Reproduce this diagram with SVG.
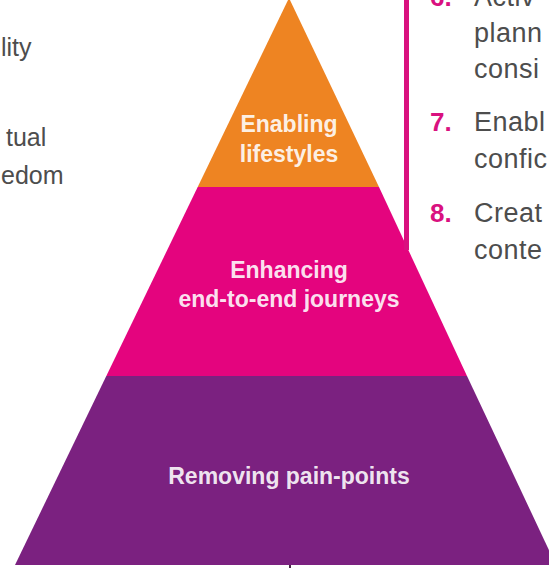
<svg xmlns="http://www.w3.org/2000/svg" width="549" height="568" viewBox="0 0 549 568">
  <style>
    .lbl { font-family: "Liberation Sans", Arial, sans-serif; font-weight: bold; font-size: 23px; fill: #ffffff; fill-opacity: 0.9; text-anchor: middle; }
    .side { font-family: "Liberation Sans", Arial, sans-serif; font-size: 25px; fill: #4d4d4d; }
    .rside { font-family: "Liberation Sans", Arial, sans-serif; font-size: 27px; fill: #4d4d4d; letter-spacing: 0.5px; }
    .num { font-family: "Liberation Sans", Arial, sans-serif; font-weight: bold; font-size: 26px; fill: #d9117f; }
  </style>
  <rect x="0" y="0" width="549" height="568" fill="#ffffff"/>

  <g id="side-left">
    <text class="side" x="1" y="56">lity</text>
    <text class="side" x="6" y="146">tual</text>
    <text class="side" x="1" y="184">edom</text>
  </g>

  <g id="tier-top">
    <polygon points="289,-2 379,187 197.7,187" fill="#ee8422"/>
    <text class="lbl" x="289" y="132">Enabling</text>
    <text class="lbl" x="289" y="162">lifestyles</text>
  </g>

  <g id="tier-middle">
    <polygon points="197.7,187 379,187 467,376 106.3,376" fill="#e4047e"/>
    <text class="lbl" x="289" y="278">Enhancing</text>
    <text class="lbl" x="289" y="307">end-to-end journeys</text>
  </g>

  <g id="tier-bottom">
    <polygon points="106.3,376 467,376 556,565 15,565" fill="#7b2180"/>
    <text class="lbl" x="289" y="484">Removing pain-points</text>
  </g>

  <g id="connectors">
    <line x1="406.5" y1="-2" x2="406.5" y2="250" stroke="#d9117f" stroke-width="5"/>
    <line x1="290" y1="565" x2="290" y2="568" stroke="#4a2a4a" stroke-width="2"/>
  </g>

  <g id="list-right">
    <text class="num" x="430" y="6">6.</text>
    <text class="rside" x="474" y="6">Activ</text>
    <text class="rside" x="474" y="42">plann</text>
    <text class="rside" x="474" y="78">consi</text>
    <text class="num" x="430" y="131">7.</text>
    <text class="rside" x="474" y="131">Enabl</text>
    <text class="rside" x="474" y="168">confic</text>
    <text class="num" x="430" y="222">8.</text>
    <text class="rside" x="474" y="222">Creat</text>
    <text class="rside" x="474" y="259">conte</text>
  </g>
</svg>
